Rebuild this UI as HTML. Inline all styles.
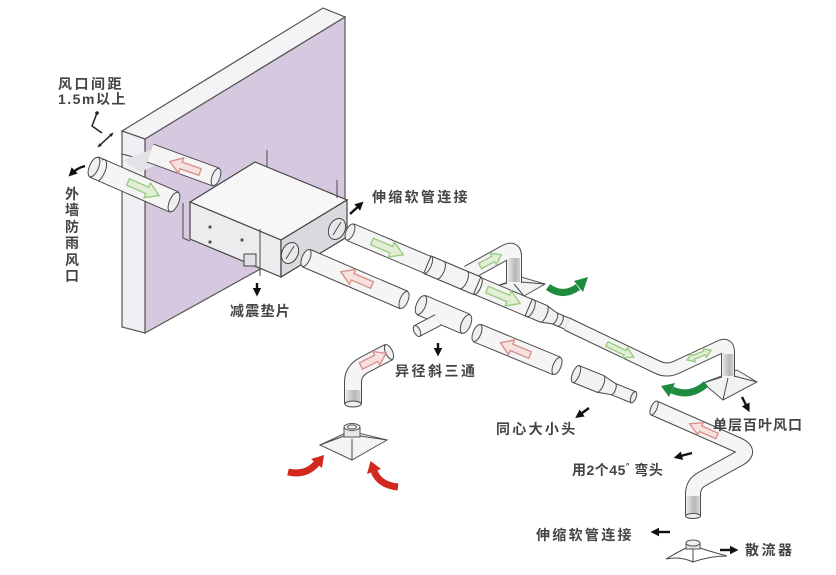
<!DOCTYPE html>
<html><head><meta charset="utf-8"><style>
html,body{margin:0;padding:0;background:#fff;}
svg{display:block;}
.o{fill:none;stroke:#4a4a4a;stroke-linejoin:round;}
.i{fill:none;stroke:#f5f5f5;stroke-linejoin:round;}
.cap{fill:#efefef;stroke:#4a4a4a;stroke-width:1;}
.ln{fill:none;stroke:#4a4a4a;stroke-width:1;}
.ga{fill:#e2efd6;stroke:#9ccc84;stroke-width:1.4;}
.ra{fill:#f6e1df;stroke:#d9938e;stroke-width:1.4;}
.ba{fill:none;stroke:#111;stroke-width:2.4;marker-end:url(#ah);}
text{font-family:"Liberation Sans","Noto Sans CJK SC","WenQuanYi Zen Hei",sans-serif;font-size:14px;fill:#444;font-weight:bold;}
</style></head><body>
<svg width="836" height="575" viewBox="0 0 836 575" xmlns="http://www.w3.org/2000/svg">
<defs>
<marker id="ah" viewBox="0 0 10 10" refX="6" refY="5" markerWidth="3.6" markerHeight="3.6" orient="auto"><path d="M0,0 L10,5 L0,10 z" fill="#111"/></marker>
<marker id="sm" viewBox="0 0 10 10" refX="5" refY="5" markerWidth="3" markerHeight="3" orient="auto-start-reverse"><path d="M0,1 L10,5 L0,9 z" fill="#222"/></marker>
<linearGradient id="vg" x1="0" y1="0" x2="1" y2="0"><stop offset="0" stop-color="#e6e6e6"/><stop offset="0.6" stop-color="#b8b8b8"/><stop offset="1" stop-color="#d0d0d0"/></linearGradient>
</defs>

<!-- wall -->
<polygon points="145,139 345,17 345,222 145,333" fill="#d6c9df" stroke="#555" stroke-width="1.2"/>
<polygon points="122,131 323,8 345,17 145,139" fill="#f4f3f5" stroke="#555" stroke-width="1.2"/>
<polygon points="122,131 145,139 145,333 122,327" fill="#f1eff3" stroke="#555" stroke-width="1.2"/>
<line x1="122" y1="154" x2="145" y2="160" class="ln"/>
<polygon points="123,160 150,150 168,160 140,172" fill="#e4e2e6"/>

<!-- upper red pipe through wall -->
<path d="M150,153 L216,177" class="o" stroke-width="20"/>
<path d="M150,153 L216,177" class="i" stroke-width="18"/>
<ellipse cx="216" cy="177" rx="4" ry="9" transform="rotate(20 216 177)" class="cap"/>
<polygon class="ra" transform="translate(200,172) rotate(199)" points="0,-3.5 20,-3.5 20,-8 32,0 20,8 20,3.5 0,3.5"/>

<!-- green front pipe -->
<path d="M94,167 L174,202" class="o" stroke-width="23"/>
<path d="M94,167 L174,202" class="i" stroke-width="21"/>
<ellipse cx="94" cy="167" rx="4.5" ry="10.5" transform="rotate(23.6 94 167)" class="cap"/>
<path d="M102,160 A4.5,10.5 23.6 0 1 98,181" class="ln" stroke-width="1.6"/>
<ellipse cx="174" cy="202" rx="4.5" ry="10.5" transform="rotate(23.6 174 202)" class="cap"/>
<polygon class="ga" transform="translate(128,182) rotate(23.6)" points="0,-3.5 21,-3.5 21,-8 34,0 21,8 21,3.5 0,3.5"/>

<!-- box -->
<polygon points="190,202 255,162 347,200 281,240" fill="#f7f7f7" stroke="#444" stroke-width="1.2"/>
<polygon points="190,202 281,240 281,277 190,239" fill="#ececee" stroke="#444" stroke-width="1.2"/>
<polygon points="281,240 347,200 347,237 281,277" fill="#dadade" stroke="#444" stroke-width="1.2"/>
<line x1="267" y1="150" x2="267" y2="167" class="ln" stroke-width="1.4"/>
<line x1="337" y1="180" x2="337" y2="198" class="ln" stroke-width="1.4"/>
<polyline points="183,203 183,238 190,241" class="ln" stroke-width="1.4"/>
<line x1="260" y1="229" x2="260" y2="276" class="ln" stroke-width="1.4"/>
<rect x="244" y="254" width="12" height="12" fill="#e2e2e4" stroke="#444"/>
<circle cx="210" cy="227" r="1.6" fill="#555"/><circle cx="210" cy="242" r="1.6" fill="#555"/>
<circle cx="242" cy="240" r="1.6" fill="#555"/>
<ellipse cx="290" cy="253" rx="8" ry="11" transform="rotate(25 290 253)" fill="#e8e8ea" stroke="#444"/>
<path d="M286,259 L294,246" class="ln"/>
<ellipse cx="337" cy="229" rx="8" ry="11" transform="rotate(25 337 229)" fill="#e8e8ea" stroke="#444"/>
<path d="M333,235 L341,222" class="ln"/>

<!-- branch B and grille -->
<polygon points="497,286 521,277 545,284 524,296" fill="#f2f2f2" stroke="#555"/>
<path d="M507,283 L497,286 M514,284 L524,296 M521,282 L545,284" class="ln"/>
<path d="M468,273 L506,252 Q514,248 514,256 L514,283" class="o" stroke-width="16"/>
<path d="M468,273 L506,252 Q514,248 514,256 L514,283" class="i" stroke-width="14"/>
<rect x="508" y="258" width="12" height="24" fill="url(#vg)"/>
<polygon class="ga" transform="translate(480,266) rotate(-28)" points="0,-3 15,-3 15,-6.5 24,0 15,6.5 15,3 0,3"/>

<!-- right grille under riser -->
<polygon points="703,383 737,370 757,382 723,400" fill="#f2f2f2" stroke="#555"/>
<path d="M722,377 L703,383 M728,378 L723,400 M734,376 L757,382" class="ln"/>

<!-- main pipe A -->
<path d="M350,232 L532,309" class="o" stroke-width="19"/>
<path d="M350,232 L532,309" class="i" stroke-width="17"/>
<ellipse cx="350" cy="232" rx="4" ry="8.5" transform="rotate(23 350 232)" class="cap"/>
<g transform="translate(350,232) rotate(22.9)">
<rect x="84" y="-9.5" width="54" height="19" fill="#f3f3f3" stroke="#444"/>
<path d="M84,-9.5 A4,9.5 0 0 1 84,9.5 M98,-9.5 A4,9.5 0 0 1 98,9.5 M123,-9.5 A4,9.5 0 0 1 123,9.5 M138,-9.5 A4,9.5 0 0 1 138,9.5" class="ln"/>
<polygon points="194,-9 210,-9 222,-6 237,-6 237,6 222,6 210,9 194,9" fill="#f0f0f0" stroke="#444"/>
<path d="M196,-9 A3.5,9 0 0 1 196,9 M210,-9 A3.5,9 0 0 1 210,9 M222,-6 A2.5,6 0 0 1 222,6 M228,-6 A2.5,6 0 0 1 228,6" class="ln"/>
</g>
<polygon class="ga" transform="translate(372,241.5) rotate(22.9)" points="0,-3.5 21,-3.5 21,-8 34,0 21,8 21,3.5 0,3.5"/>
<polygon class="ga" transform="translate(487,289.5) rotate(22.9)" points="0,-3.5 23,-3.5 23,-8 36,0 23,8 23,3.5 0,3.5"/>

<!-- small pipe, elbow, riser -->
<path d="M567,324 L657,367 Q667,372 677,367 L720,347 Q728,343 728,352 L728,377" class="o" stroke-width="14"/>
<path d="M567,324 L657,367 Q667,372 677,367 L720,347 Q728,343 728,352 L728,377" class="i" stroke-width="12"/>
<rect x="722.5" y="354" width="11" height="22" fill="url(#vg)"/>
<polygon class="ga" transform="translate(607,344) rotate(26)" points="0,-2.5 20,-2.5 20,-5.5 30,0 20,5.5 20,2.5 0,2.5"/>
<polygon class="ga" transform="translate(687,360) rotate(-22)" points="0,0 7,-4.5 7,-2 19,-2 19,-4.5 26,0 19,4.5 19,2 7,2 7,4.5"/>

<!-- red pipe R1 -->
<path d="M306,258 L404,300" class="o" stroke-width="20"/>
<path d="M306,258 L404,300" class="i" stroke-width="18"/>
<ellipse cx="306" cy="258" rx="4" ry="9" transform="rotate(23 306 258)" class="cap"/>
<ellipse cx="404" cy="300" rx="4" ry="9" transform="rotate(23 404 300)" class="cap"/>
<polygon class="ra" transform="translate(372,285) rotate(203)" points="0,-3.5 21,-3.5 21,-8 34,0 21,8 21,3.5 0,3.5"/>

<!-- tee -->
<path d="M421,305 L466,324" class="o" stroke-width="22"/>
<path d="M421,305 L466,324" class="i" stroke-width="20"/>
<ellipse cx="421" cy="305" rx="4.5" ry="10" transform="rotate(23 421 305)" class="cap"/>
<ellipse cx="466" cy="324" rx="4.5" ry="10" transform="rotate(23 466 324)" class="cap"/>
<path d="M438,320 L417,331" class="o" stroke-width="13"/>
<path d="M438,320 L417,331" class="i" stroke-width="11"/>
<ellipse cx="417" cy="331" rx="3" ry="6" transform="rotate(153 417 331)" class="cap"/>

<!-- red pipe R2 -->
<path d="M477,333 L557,366" class="o" stroke-width="20"/>
<path d="M477,333 L557,366" class="i" stroke-width="18"/>
<ellipse cx="477" cy="333" rx="4" ry="9" transform="rotate(22.5 477 333)" class="cap"/>
<ellipse cx="557" cy="366" rx="4" ry="9" transform="rotate(22.5 557 366)" class="cap"/>
<polygon class="ra" transform="translate(530,355) rotate(202.5)" points="0,-3.5 20,-3.5 20,-8 32,0 20,8 20,3.5 0,3.5"/>

<!-- standalone reducer -->
<g transform="translate(576,374) rotate(22)">
<polygon points="0,-9 26,-9 40,-6 62,-6 62,6 40,6 26,9 0,9" fill="#f2f2f2" stroke="#444"/>
<ellipse cx="0" cy="0" rx="3.5" ry="9" class="cap"/>
<ellipse cx="62" cy="0" rx="2.5" ry="6" class="cap"/>
<path d="M26,-9 A3.5,9 0 0 1 26,9 M40,-6 A2.5,6 0 0 1 40,6" class="ln"/>
</g>

<!-- lower left elbow -->
<path d="M353,404 L353,382 Q353,371 364,365 L389,352" class="o" stroke-width="18"/>
<path d="M353,404 L353,382 Q353,371 364,365 L389,352" class="i" stroke-width="16"/>
<rect x="345.5" y="390" width="15" height="14" fill="url(#vg)"/>
<ellipse cx="353" cy="404" rx="8" ry="3" class="cap"/>
<ellipse cx="389" cy="352" rx="3.5" ry="8" transform="rotate(-25 389 352)" class="cap"/>
<polygon class="ra" transform="translate(361,366) rotate(-27)" points="0,-3.5 17,-3.5 17,-7.5 28,0 17,7.5 17,3.5 0,3.5"/>

<!-- floor grille left -->
<polygon points="320,445 350,431 387,440 352,460" fill="#f4f4f4" stroke="#555"/>
<path d="M344,436 L320,445 M352,439 L352,460 M360,436 L387,440" class="ln"/>
<rect x="344" y="427" width="16" height="10" fill="#e6e6e6" stroke="#555"/>
<ellipse cx="352" cy="427" rx="8" ry="3.5" fill="#f0f0f0" stroke="#555"/>
<ellipse cx="352" cy="427" rx="4.5" ry="2" fill="none" stroke="#555"/>

<!-- red curved arrows -->
<path d="M288,472 Q306,476 317,463" fill="none" stroke="#d2281f" stroke-width="7"/>
<polygon points="324,455 322,468 311,459" fill="#d2281f"/>
<path d="M398,487 Q379,485 374,471" fill="none" stroke="#d2281f" stroke-width="7"/>
<polygon points="370.6,461 381,469 367,474" fill="#d2281f"/>

<!-- green curved arrows -->
<path d="M548,287 Q563,298 578,287" fill="none" stroke="#1f8b3f" stroke-width="7"/>
<polygon points="588,277 583,292 574,281" fill="#1f8b3f"/>
<path d="M706,384 Q690,398 672,390" fill="none" stroke="#1f8b3f" stroke-width="7"/>
<polygon points="661,386 675,383 669,397" fill="#1f8b3f"/>

<!-- pipe C lower right -->
<path d="M654,408 L738,445 Q751,451 740,458 L702,479 Q693,484 693,494 L693,516" class="o" stroke-width="16"/>
<path d="M654,408 L738,445 Q751,451 740,458 L702,479 Q693,484 693,494 L693,516" class="i" stroke-width="14"/>
<rect x="686.5" y="496" width="13" height="20" fill="url(#vg)"/>
<ellipse cx="654" cy="408" rx="3" ry="7.5" transform="rotate(24 654 408)" class="cap"/>
<ellipse cx="693" cy="516" rx="7.5" ry="2.5" class="cap"/>
<polygon class="ra" transform="translate(717,436) rotate(204)" points="0,-3 18,-3 18,-6.5 30,0 18,6.5 18,3 0,3"/>

<!-- bottom diffuser -->
<path d="M686,548 Q676,553 666,559 M700,548 Q712,552 727,556 M693,549 L693,562 M666,559 Q680,556 693,562 Q710,556 727,556" class="ln"/>
<rect x="686" y="543" width="14" height="6" fill="#e6e6e6" stroke="#555"/>
<ellipse cx="693" cy="543" rx="7" ry="3" fill="#f0f0f0" stroke="#555"/>

<!-- black arrows -->
<polyline points="97,113 92,126 102,133" fill="none" stroke="#222" stroke-width="1.5"/>
<circle cx="97" cy="113" r="1.8" fill="#222"/>
<line x1="99" y1="146" x2="112" y2="134" stroke="#222" stroke-width="1.5" marker-start="url(#sm)" marker-end="url(#sm)"/>
<path d="M85,166 Q77,168 71,174" class="ba"/>
<line x1="350" y1="214" x2="361" y2="204" class="ba"/>
<line x1="257" y1="283" x2="257" y2="293" class="ba"/>
<line x1="438" y1="343" x2="438" y2="353" class="ba"/>
<line x1="589" y1="408" x2="578" y2="416" class="ba"/>
<line x1="742" y1="397" x2="748" y2="409" class="ba"/>
<line x1="692" y1="453" x2="677" y2="457" class="ba"/>
<line x1="670" y1="532" x2="654" y2="532" class="ba"/>
<line x1="720" y1="550" x2="735" y2="550" class="ba"/>

<!-- labels -->
<text x="58" y="89" letter-spacing="2.5">风口间距</text>
<text x="58" y="104" letter-spacing="1.5">1.5m以上</text>
<text x="65" y="199">外</text>
<text x="65" y="215">墙</text>
<text x="65" y="232">防</text>
<text x="65" y="248">雨</text>
<text x="65" y="265">风</text>
<text x="65" y="281">口</text>
<text x="230" y="316" letter-spacing="1.3">减震垫片</text>
<text x="372" y="202" letter-spacing="2.3">伸缩软管连接</text>
<text x="395" y="376" letter-spacing="2.5">异径斜三通</text>
<text x="496" y="434" letter-spacing="2.3">同心大小头</text>
<text x="713" y="430" letter-spacing="1">单层百叶风口</text>
<text x="572" y="475" letter-spacing="0.5">用2个45<tspan font-size="9" dy="-6">°</tspan><tspan dy="6"> 弯头</tspan></text>
<text x="536" y="540" letter-spacing="2.3">伸缩软管连接</text>
<text x="745" y="555" letter-spacing="2.5">散流器</text>
</svg>
</body></html>
